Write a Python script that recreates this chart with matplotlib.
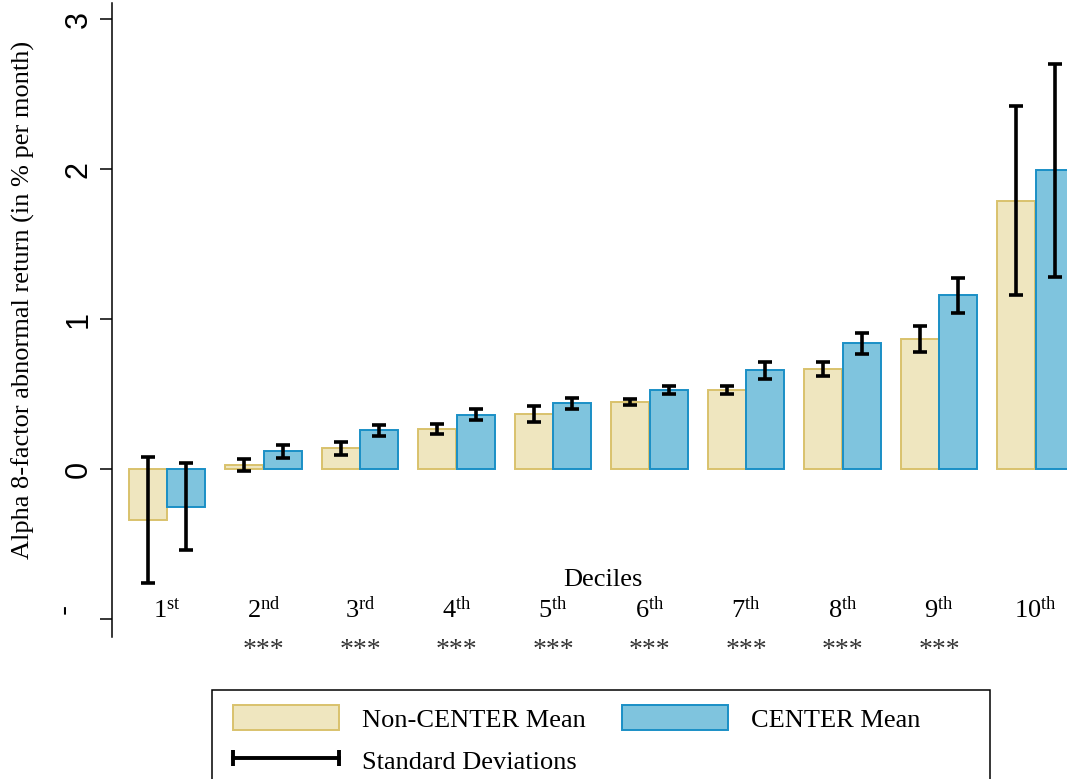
import numpy as np
import matplotlib
matplotlib.use('Agg')
import matplotlib.pyplot as plt
from matplotlib.patches import Patch, Rectangle
from matplotlib.lines import Line2D
from matplotlib.legend_handler import HandlerLine2D
import matplotlib.transforms as mtransforms

plt.rcParams['font.family'] = 'Liberation Serif'
plt.rcParams['mathtext.fontset'] = 'custom'
plt.rcParams['mathtext.rm'] = 'Liberation Serif'

# data
deciles = ['1', '2', '3', '4', '5', '6', '7', '8', '9', '10']
suffix = ['st', 'nd', 'rd', 'th', 'th', 'th', 'th', 'th', 'th', 'th']
nc_mean = [-0.34, 0.03, 0.14, 0.27, 0.372, 0.447, 0.53, 0.67, 0.872, 1.79]
nc_sd = [0.42, 0.038, 0.041, 0.033, 0.053, 0.02, 0.027, 0.044, 0.087, 0.63]
c_mean = [-0.25, 0.122, 0.26, 0.365, 0.44, 0.53, 0.66, 0.84, 1.16, 1.995]
c_sd = [0.29, 0.043, 0.039, 0.036, 0.036, 0.027, 0.058, 0.067, 0.117, 0.71]
stars = ['', '***', '***', '***', '***', '***', '***', '***', '***', '']
yticks = [3, 2, 1, 0, -1]
ytick_labels = ['3', '2', '1', '0', '']

nc_face, nc_edge = '#efe6bf', '#d9c26c'
c_face, c_edge = '#7fc4de', '#1a8fc6'

W, H = 1067, 779
fig = plt.figure(figsize=(W / 100, H / 100), dpi=100)
ax = fig.add_axes([112 / W, (H - 637) / H, (1093 - 112) / W, (637 - 3) / H])

x = np.arange(len(deciles))
bw = 0.39
ax.bar(x - 0.2, nc_mean, width=bw, color=nc_face, edgecolor=nc_edge, linewidth=1.4)
ax.bar(x + 0.2, c_mean, width=bw, color=c_face, edgecolor=c_edge, linewidth=1.4)
ax.errorbar(x - 0.2, nc_mean, yerr=nc_sd, fmt='none', ecolor='black',
            elinewidth=2.6, capsize=5, capthick=2.6)
ax.errorbar(x + 0.2, c_mean, yerr=c_sd, fmt='none', ecolor='black',
            elinewidth=2.6, capsize=5, capthick=2.6)

ax.set_xlim(-0.57, 9.596)
ax.set_ylim(-1.117, 3.11)

for s in ['top', 'right', 'bottom']:
    ax.spines[s].set_visible(False)
ax.spines['left'].set_linewidth(1.1)
ax.set_xticks([])
ax.set_yticks(yticks)
ax.set_yticklabels(ytick_labels, family='Liberation Sans')
ax.tick_params(axis='y', length=9, width=1.1, pad=4, labelsize=22, labelrotation=90)
for lbl in ax.get_yticklabels():
    lbl.set_va('center')
# the -1 tick only shows a lone dash, a little above the tick
ytrans = mtransforms.blended_transform_factory(ax.transAxes, ax.transData)
ax.text(-0.048, -0.93, '-', transform=ytrans, rotation=90, ha='center',
        va='center', fontsize=22, family='Liberation Sans')

# decile labels sit inside the plot area, stars below it
trans = mtransforms.blended_transform_factory(ax.transData, ax.transAxes)
for i in range(len(deciles)):
    ax.text(x[i], 0.030, r'$\mathrm{%s^{%s}}$' % (deciles[i], suffix[i]),
            transform=trans, ha='center', va='baseline', fontsize=19)
    if stars[i]:
        ax.text(x[i], -0.021, stars[i], transform=trans, ha='center',
                va='center', fontsize=20, color='#333333')
ax.text(0.5, 0.080, 'Deciles', transform=ax.transAxes, ha='center',
        va='baseline', fontsize=19)

fig.text(23 / W, (H - 300) / H, 'Alpha 8-factor abnormal return (in % per month)',
         rotation=90, ha='center', va='center', fontsize=19)

# legend
handles = [Patch(facecolor=nc_face, edgecolor=nc_edge, linewidth=1.4),
           Line2D([0, 1], [0, 0], color='black', lw=2.8, marker='|',
                  markersize=11, markeredgewidth=2.8),
           Patch(facecolor=c_face, edgecolor=c_edge, linewidth=1.4)]
labels = ['Non-CENTER Mean', 'Standard Deviations', 'CENTER Mean']
fig.legend(handles, labels, ncol=2, loc='upper left',
           bbox_to_anchor=(233 / W, (H - 705) / H), frameon=False,
           borderpad=0, borderaxespad=0, handlelength=4.0, handleheight=1.1,
           handletextpad=0.87, columnspacing=1.4, labelspacing=0.58,
           numpoints=2, fontsize=19,
           handler_map={Line2D: HandlerLine2D(marker_pad=0, numpoints=2)})
fig.patches.append(Rectangle((212 / W, -0.05), (990 - 212) / W, 0.05 + (H - 690) / H,
                             transform=fig.transFigure, fill=False,
                             edgecolor='black', linewidth=1.1))

fig.savefig('out.png', dpi=100)
